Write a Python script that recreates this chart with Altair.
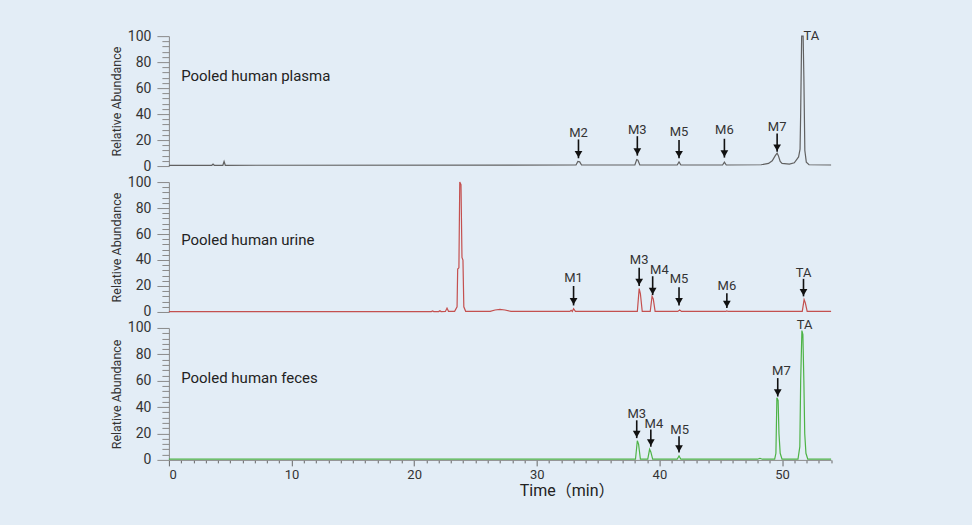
import altair as alt
import pandas as pd

BG = "#e3edf6"
FONT = "Roboto, 'Noto Sans CJK JP', sans-serif"

# ---------------- data ----------------
plasma_t = [0, 3.5, 3.6, 3.7, 4.4, 4.5, 4.6, 33.2, 33.35, 33.5, 33.65, 38.0, 38.15, 38.25, 38.4,
            41.45, 41.6, 41.75, 45.15, 45.3, 45.45, 48.3, 48.9, 49.2, 49.45, 49.6, 49.7, 49.85,
            50.0, 50.6, 51.0, 51.35, 51.47, 51.52, 51.6, 51.72, 51.78, 51.86, 51.98, 52.2, 54]
plasma_v = [0.6, 0.6, 1.5, 0.6, 0.6, 3.5, 0.6, 0.8, 3.5, 3.2, 0.8, 0.8, 5.0, 4.5, 0.8,
            0.8, 3.2, 0.8, 0.8, 3.0, 0.8, 1.0, 2.0, 4.0, 8.0, 10.0, 8.0, 3.5,
            2.0, 1.5, 2.5, 7.0, 13.0, 41.0, 100.0, 100.0, 69.0, 12.0, 3.0, 1.0, 0.8]

urine_t = [0, 21.4, 21.5, 21.6, 22.0, 22.1, 22.2, 22.55, 22.68, 22.8, 23.3, 23.5, 23.55, 23.65,
           23.72, 23.82, 23.9, 23.98, 24.05, 24.2, 26.2, 26.6, 27.0, 27.4, 27.9, 32.7, 32.8,
           32.9, 33.0, 33.15, 38.2, 38.35, 38.45, 38.6, 39.25, 39.4, 39.5, 39.65, 41.5, 41.65,
           41.8, 45.4, 45.5, 45.6, 51.65, 51.8, 51.9, 52.05, 54]
urine_v = [0.3, 0.3, 0.8, 0.3, 0.3, 1.0, 0.3, 0.4, 3.0, 0.5, 0.5, 4.0, 33.0, 34.0,
           100.0, 98.0, 42.0, 40.0, 4.0, 0.5, 0.5, 1.5, 2.0, 1.5, 0.4, 0.4, 1.2,
           0.4, 2.5, 0.4, 0.4, 18.0, 14.0, 0.4, 0.4, 12.0, 10.0, 0.4, 0.4, 1.5,
           0.4, 0.4, 0.8, 0.4, 0.4, 9.5, 7.0, 0.4, 0.4]

feces_t = [0, 38.05, 38.2, 38.3, 38.45, 39.05, 39.2, 39.3, 39.45, 41.45, 41.6, 41.75, 48.0,
           48.2, 48.4, 49.4, 49.5, 49.58, 49.68, 49.75, 49.85, 50.0, 51.3, 51.45, 51.52,
           51.62, 51.7, 51.78, 51.85, 51.95, 52.1, 54]
feces_v = [0.5, 0.5, 14.5, 12.0, 0.5, 0.5, 8.0, 6.0, 0.5, 0.5, 3.0, 0.5, 0.5,
           1.2, 0.5, 0.5, 5.0, 47.0, 45.0, 20.0, 5.0, 0.5, 0.5, 10.0, 60.0,
           98.0, 95.0, 60.0, 20.0, 5.0, 0.5, 0.5]

# annotations: arrows (time, top, tip) and labels (text, time, value)
plasma_arrow_t = [33.4, 38.2, 41.6, 45.3, 49.6]
plasma_arrow_top = [20.5, 23, 20, 21, 25]
plasma_arrow_tip = [6, 8, 6, 6.5, 11]
plasma_label = ["M2", "M3", "M5", "M6", "M7", "TA"]
plasma_label_t = [33.4, 38.2, 41.6, 45.3, 49.6, 52.4]
plasma_label_v = [25.5, 27.5, 26, 27.5, 30, 100]

urine_arrow_t = [33.0, 38.35, 39.45, 41.6, 45.5, 51.75]
urine_arrow_top = [20, 34, 27.5, 19, 14.5, 25.5]
urine_arrow_tip = [5, 20, 13, 5, 3, 12]
urine_label = ["M1", "M3", "M4", "M5", "M6", "TA"]
urine_label_t = [33.0, 38.35, 40.0, 41.6, 45.5, 51.75]
urine_label_v = [26, 40, 32, 25, 20, 30]

feces_arrow_t = [38.15, 39.3, 41.6, 49.65]
feces_arrow_top = [30, 23, 18, 62]
feces_arrow_tip = [16.5, 10, 5.5, 48]
feces_label = ["M3", "M4", "M5", "M7", "TA"]
feces_label_t = [38.15, 39.55, 41.65, 49.95, 51.85]
feces_label_v = [35, 27, 23, 67, 102]

panel_names = ["Pooled human plasma", "Pooled human urine", "Pooled human feces"]
panel_name_t = [1.0, 1.0, 1.0]
panel_name_v = [69, 55.5, 62]

y_ticks = list(range(0, 101, 4))
x_ticks = list(range(0, 55, 1))

# ---------------- chart ----------------
xscale = alt.Scale(domain=[0, 54], nice=False, zero=False)
yscale = alt.Scale(domain=[0, 100], nice=False)

x_axis = alt.Axis(
    values=x_ticks,
    labelExpr="datum.value % 10 === 0 ? datum.label : ''",
    tickSize={"condition": {"test": "datum.value % 10 === 0", "value": 6}, "value": 3},
    tickColor="#666", domainColor="#8a8a8a", domainWidth=1, tickWidth=1,
    labelFont=FONT, labelFontSize=13, labelColor="#333", labelPadding=3,
    title="Time（min）", titleFont=FONT, titleFontSize=16, titleFontWeight="normal",
    titleColor="#222", titleX=398, titleAlign="center", titlePadding=1, grid=False,
)
y_axis = alt.Axis(
    values=y_ticks,
    labelExpr="datum.value % 20 === 0 ? datum.label : ''",
    tickSize={"condition": {"test": "datum.value % 20 === 0", "value": 12}, "value": 7},
    tickColor="#8a8a8a", domainColor="#8a8a8a", tickWidth=1,
    labelFont=FONT, labelFontSize=14, labelColor="#333", labelPadding=6,
    title="Relative Abundance", titleFont=FONT, titleFontSize=12.5, titleFontWeight="normal",
    titleColor="#333", titlePadding=4, grid=False,
)


def X(field, show_axis):
    return alt.X(f"{field}:Q", scale=xscale, axis=x_axis if show_axis else None)


def Y(field):
    return alt.Y(f"{field}:Q", scale=yscale, axis=y_axis)


def panel(t, v, color, at, atop, atip, lab, lab_t, lab_v, idx, height, show_x):
    trace = pd.DataFrame({"t": t, "v": v})
    arrows = pd.DataFrame({"t": at, "top": atop, "tip": atip})
    labels = pd.DataFrame({"label": lab, "t": lab_t, "v": lab_v})
    name = pd.DataFrame({"name": [panel_names[idx]], "t": [panel_name_t[idx]], "v": [panel_name_v[idx]]})

    line = alt.Chart(trace).mark_line(color=color, strokeWidth=1.2).encode(
        x=X("t", show_x), y=Y("v"))
    rule = alt.Chart(arrows).mark_rule(color="#111", strokeWidth=1.6).encode(
        x=X("t", show_x), y=Y("top"), y2="tip:Q")
    head = alt.Chart(arrows).mark_point(
        shape="triangle-down", filled=True, color="#111", opacity=1, size=60, yOffset=-4
    ).encode(x=X("t", show_x), y=Y("tip"))
    text = alt.Chart(labels).mark_text(
        font=FONT, fontSize=13, color="#333", baseline="middle", align="center"
    ).encode(x=X("t", show_x), y=Y("v"), text="label:N")
    title = alt.Chart(name).mark_text(
        font=FONT, fontSize=15, color="#222", baseline="middle", align="left"
    ).encode(x=X("t", show_x), y=Y("v"), text="name:N")
    return alt.layer(line, rule, head, text, title).properties(width=662.6, height=height)


p1 = panel(plasma_t, plasma_v, "#616161", plasma_arrow_t, plasma_arrow_top, plasma_arrow_tip,
           plasma_label, plasma_label_t, plasma_label_v, 0, 130, False)
p2 = panel(urine_t, urine_v, "#c4504f", urine_arrow_t, urine_arrow_top, urine_arrow_tip,
           urine_label, urine_label_t, urine_label_v, 1, 130, False)
p3 = panel(feces_t, feces_v, "#4db346", feces_arrow_t, feces_arrow_top, feces_arrow_tip,
           feces_label, feces_label_t, feces_label_v, 2, 132, True)

chart = alt.vconcat(p1, p2, p3, spacing=16, bounds="flush").properties(
    background=BG,
    padding={"left": 110, "top": 29, "right": 138, "bottom": 26},
).configure_view(stroke=None)

chart.save("out.html", embed_options={"renderer": "svg", "actions": False})
